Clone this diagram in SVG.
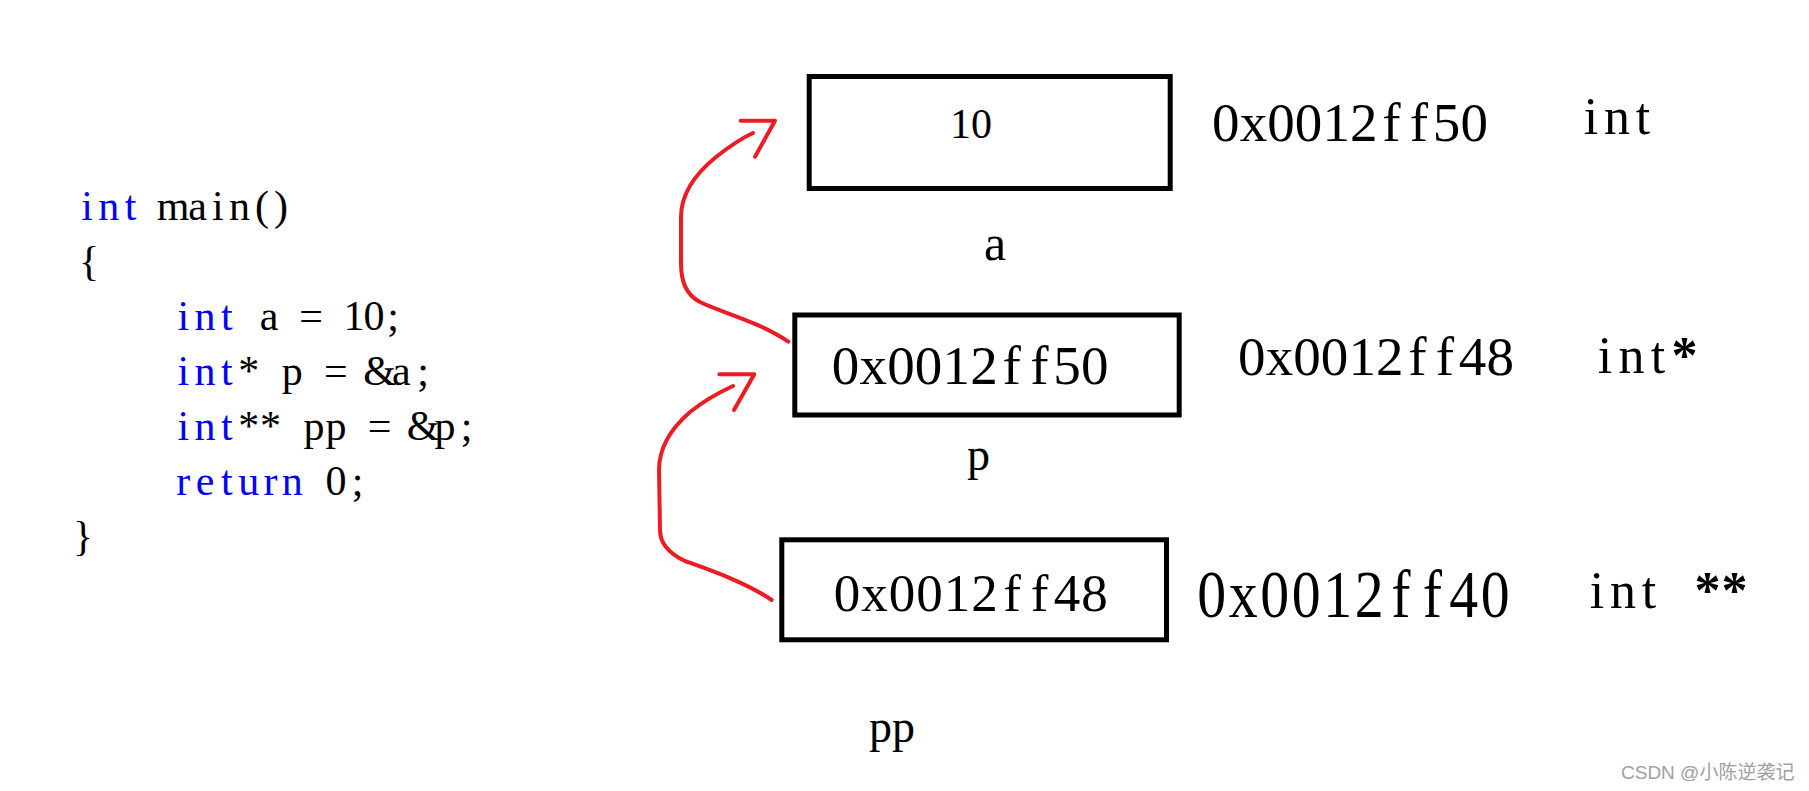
<svg xmlns="http://www.w3.org/2000/svg" width="1809" height="791" viewBox="0 0 1809 791">
<style>
text{font-family:"Liberation Serif","Times New Roman",serif;fill:#000}
.code{font-size:42px;text-anchor:middle}
.m{text-anchor:middle}
.kw{fill:#0000ff}
.box{fill:#fff;stroke:#000;stroke-width:5}
.red{fill:none;stroke:#ed1c24;stroke-width:4;stroke-linecap:round;stroke-linejoin:round}
.b{font-weight:bold}
.wm{font-family:"Liberation Sans","Noto Sans CJK SC",sans-serif;font-size:19px;fill:#a0a0a0}
</style>
<rect width="1809" height="791" fill="#fff"/>
<g id="code">
<text class="code" xml:space="preserve" x="87 108.8 130.6 152.4 173 197.5 217.8 239.6 262 281" y="220"><tspan class="kw">int</tspan> main()</text>
<text class="code" x="89" y="275">{</text>
<text class="code" xml:space="preserve" x="183.3 205.1 226.9 248.7 269 290 311 332 354 374 393" y="330"><tspan class="kw">int</tspan> a = 10;</text>
<text class="code" xml:space="preserve" x="183.3 205.1 226.9 248.7 270.5 292.3 314.1 335.9 357.7 379.5 401.3 423.1" y="385"><tspan class="kw">int</tspan>* p = &amp;a;</text>
<text class="code" xml:space="preserve" x="183.3 205.1 226.9 248.7 270.5 292.3 314.1 335.9 357.7 379.5 401.3 423.1 444.9 466.7" y="440"><tspan class="kw">int</tspan>** pp = &amp;p;</text>
<text class="code" xml:space="preserve" x="183.3 205.1 226.9 248.7 270.5 292.3 314.1 335.9 357.7" y="495"><tspan class="kw">return</tspan> 0;</text>
<text class="code" x="83" y="550">}</text>
</g>
<g id="node-a">
<rect class="box" x="809.2" y="76.5" width="361" height="112"/>
<text x="950" y="138.3" font-size="42">10</text>
<text x="984" y="260" font-size="50">a</text>
<text class="m" x="1225.8 1253.4 1281 1308.6 1336.2 1363.8 1391.4 1419 1446.6 1474.2" y="141" font-size="55">0x0012ff50</text>
<text class="m" x="1591 1617 1643" y="134" font-size="52">int</text>
</g>
<g id="node-p">
<rect class="box" x="794.8" y="315" width="384.4" height="100"/>
<text class="m" x="845.5 873.2 900.9 928.6 956.3 984 1011.7 1039.4 1067.1 1094.8" y="384.3" font-size="55">0x0012ff50</text>
<text x="967" y="470" font-size="46">p</text>
<text class="m" x="1251.8 1279.4 1307 1334.6 1362.2 1389.8 1417.4 1445 1472.6 1500.2" y="375" font-size="55">0x0012ff48</text>
<text class="m" x="1605 1631.5 1658 1684.5" y="373" font-size="52">int<tspan class="b">*</tspan></text>
</g>
<g id="node-pp">
<rect class="box" x="781.8" y="539.8" width="384.7" height="100"/>
<text class="m" x="847 874.5 902 929.5 957 984.5 1012 1039.5 1067 1094.5" y="610.7" font-size="53">0x0012ff48</text>
<text x="869" y="741.7" font-size="46">pp</text>
<text class="m" transform="translate(1196,617) scale(0.85,1)" x="18.5 55.6 92.7 129.7 166.8 203.8 240.9 278 315 352.1" y="0" font-size="68">0x0012ff40</text>
<text class="m" xml:space="preserve" x="1597 1623 1649 1675 1707.5 1734.5" y="608" font-size="52">int <tspan class="b">**</tspan></text>
</g>
<g id="connectors">
<path class="red" d="M788.3,341.7 C760,322 720,312 700,302 C685,294 681,280 681,263 L681,217 C681,190 700,170 716,157 C730,146 742,138 753,133"/>
<path class="red" d="M740.7,120.7 L775,120.7 L755,156.7"/>
<path class="red" d="M771.7,600 C745,582 710,570 685,561 C668,553 660,543 660,530 L659,470 C659,445 675,425 690,412 C705,400 720,392 733,386"/>
<path class="red" d="M719.3,374.3 L754.3,374.3 L734,410"/>
</g>
<text class="wm" x="1621" y="779">CSDN @小陈逆袭记</text>
</svg>
